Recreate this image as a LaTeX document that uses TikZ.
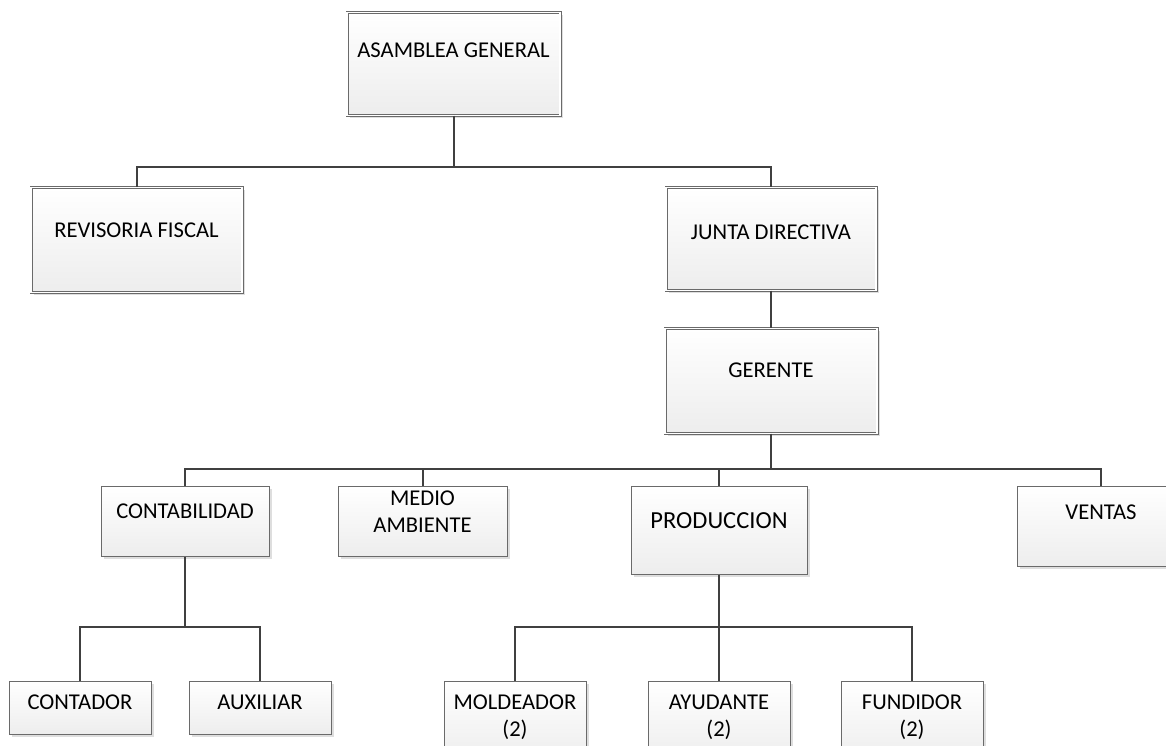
\documentclass[tikz,border=0pt]{standalone}
\usepackage{fontspec}
\setmainfont{Carlito}
\usetikzlibrary{shadows}
\definecolor{linegray}{HTML}{404040}
\definecolor{boxgray}{HTML}{6A6A6A}
\definecolor{fillgray}{HTML}{EDEDED}
\definecolor{shadowgray}{HTML}{DEDEDE}

\tikzset{
  orgbox/.style={draw=boxgray, line width=0.8pt, top color=white, bottom color=fillgray,
    drop shadow={shadow xshift=3pt, shadow yshift=-3pt, fill=shadowgray, opacity=1},
    anchor=north, inner xsep=0pt, inner ysep=0pt, align=center,
    font=\fontsize{22.6pt}{27pt}\selectfont},
  headbox/.style={orgbox, double=white, double distance=1.6pt, line width=0.7pt},
  link/.style={draw=linegray, line width=2pt},
}

\begin{document}
\begin{tikzpicture}[x=1pt, y=-1pt]
  \useasboundingbox (0,0) rectangle (1166,746);
  \clip (0,0) rectangle (1166,746);
  % niveles superiores
  \node[headbox, minimum width=213pt, text height=45pt, text depth=58pt] (ag) at (453.5,12) {ASAMBLEA GENERAL};
  \node[headbox, minimum width=211pt, text height=50pt, text depth=55pt] (rf) at (136.5,187) {REVISORIA FISCAL};
  \node[headbox, minimum width=210pt, text height=52pt, text depth=51pt] (jd) at (771,187) {JUNTA DIRECTIVA};
  \node[headbox, minimum width=212pt, text height=49pt, text depth=56pt] (ge) at (771,328) {GERENTE};
  % areas
  \node[orgbox, minimum width=168pt, text height=32pt, text depth=38pt] (co) at (185,486) {CONTABILIDAD};
  \node[orgbox, minimum width=169pt, text height=46pt, text depth=24pt] (ma) at (422.5,486) {MEDIO\\AMBIENTE};
  \node[orgbox, minimum width=176pt, text height=42pt, text depth=46pt,
        font=\fontsize{24.5pt}{29pt}\selectfont] (pr) at (719,486) {PRODUCCION};
  \node[orgbox, minimum width=168pt, text height=33pt, text depth=47pt] (ve) at (1101,486) {VENTAS};
  % cargos
  \foreach \n/\x/\h/\t in {ct/80/28/CONTADOR, au/260/28/AUXILIAR, mo/515/55/{MOLDEADOR\\(2)},
                           ay/719/55/{AYUDANTE\\(2)}, fu/912/55/{FUNDIDOR\\(2)}}
    \node[orgbox, minimum width=142pt, text height=\h pt, text depth=25pt] (\n) at (\x,681) {\t};
  % conectores
  \coordinate (b1) at (453.5,167);
  \coordinate (b2) at (771,469);
  \coordinate (b3) at (185,627);
  \coordinate (b4) at (719,627);
  \draw[link] (ag.south) -- (b1);
  \draw[link] (rf.north) |- (b1) -| (jd.north);
  \draw[link] (jd.south) -- (ge.north);
  \draw[link] (ge.south) -- (b2);
  \draw[link] (co.north) |- (b2) -| (ve.north);
  \draw[link] (ma.north) -- (ma.north |- b2);
  \draw[link] (pr.north) -- (pr.north |- b2);
  \draw[link] (co.south) -- (b3);
  \draw[link] (ct.north) |- (b3) -| (au.north);
  \draw[link] (pr.south) -- (b4);
  \draw[link] (mo.north) |- (b4) -| (fu.north);
  \draw[link] (ay.north) -- (b4);
\end{tikzpicture}
\end{document}
